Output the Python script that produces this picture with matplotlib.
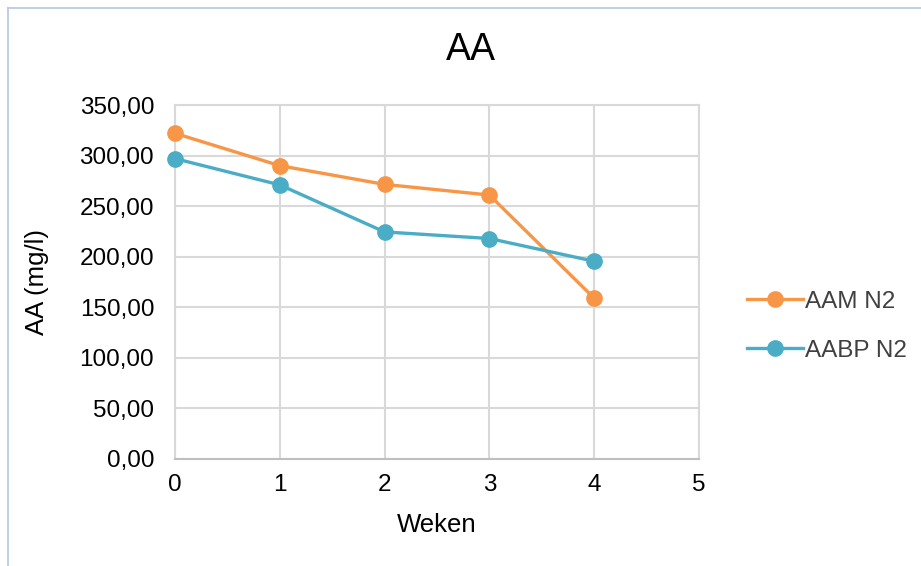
import matplotlib
matplotlib.use("Agg")
import matplotlib.pyplot as plt
from matplotlib.lines import Line2D
from matplotlib.ticker import FuncFormatter

plt.rcParams['font.family'] = ['Liberation Sans', 'DejaVu Sans']

weken = [0, 1, 2, 3, 4]
aam_n2 = [322, 290, 271.5, 261, 159]
aabp_n2 = [297, 271, 224.5, 218, 195.5]
x_ticks = [0, 1, 2, 3, 4, 5]
y_ticks = [0, 50, 100, 150, 200, 250, 300, 350]

fig = plt.figure(figsize=(9.21, 5.66), dpi=100)
ax = fig.add_axes([175 / 921, 1 - 459 / 566, 524 / 921, 354 / 566])

ax.plot(weken, aam_n2, color='#F79646', lw=2.4, marker='o', ms=11,
        label='AAM N2', clip_on=False, zorder=3)
ax.plot(weken, aabp_n2, color='#4BACC6', lw=2.4, marker='o', ms=11,
        label='AABP N2', clip_on=False, zorder=3)

ax.set_xlim(0, 5)
ax.set_ylim(0, 350)
ax.set_xticks(x_ticks)
ax.set_yticks(y_ticks)
ax.yaxis.set_major_formatter(FuncFormatter(lambda v, p: f"{v:.2f}".replace('.', ',')))
ax.grid(True, color='#d9d9d9', lw=1.5)
ax.set_axisbelow(True)
ax.tick_params(length=0, labelsize=17.5, colors='#000000', pad=11)
ax.tick_params(axis='y', pad=15)
for side in ['top', 'right', 'left']:
    ax.spines[side].set_color('#d9d9d9')
    ax.spines[side].set_linewidth(1.5)
ax.spines['bottom'].set_color('#bfbfbf')
ax.spines['bottom'].set_linewidth(1.5)

ax.set_xlabel('Weken', fontsize=18.5, labelpad=12)
ax.set_ylabel('AA (mg/l)', fontsize=18.5, labelpad=22)
fig.text(471 / 921, 1 - 50 / 566, 'AA', fontsize=27, ha='center', va='center')

leg = ax.legend(loc='center left', bbox_to_anchor=(1.05, 0.375), frameon=False,
                fontsize=17.5, labelspacing=1.1, handlelength=2.3, handletextpad=0.1)
for t in leg.get_texts():
    t.set_color('#404040')

# chart border
fig.add_artist(Line2D([8 / 921, 1], [1 - 8 / 566, 1 - 8 / 566], color='#b4c7e7', lw=1.2))
fig.add_artist(Line2D([8 / 921, 8 / 921], [0, 1 - 8 / 566], color='#b4c7e7', lw=1.2))

fig.savefig('out.png', dpi=100)
